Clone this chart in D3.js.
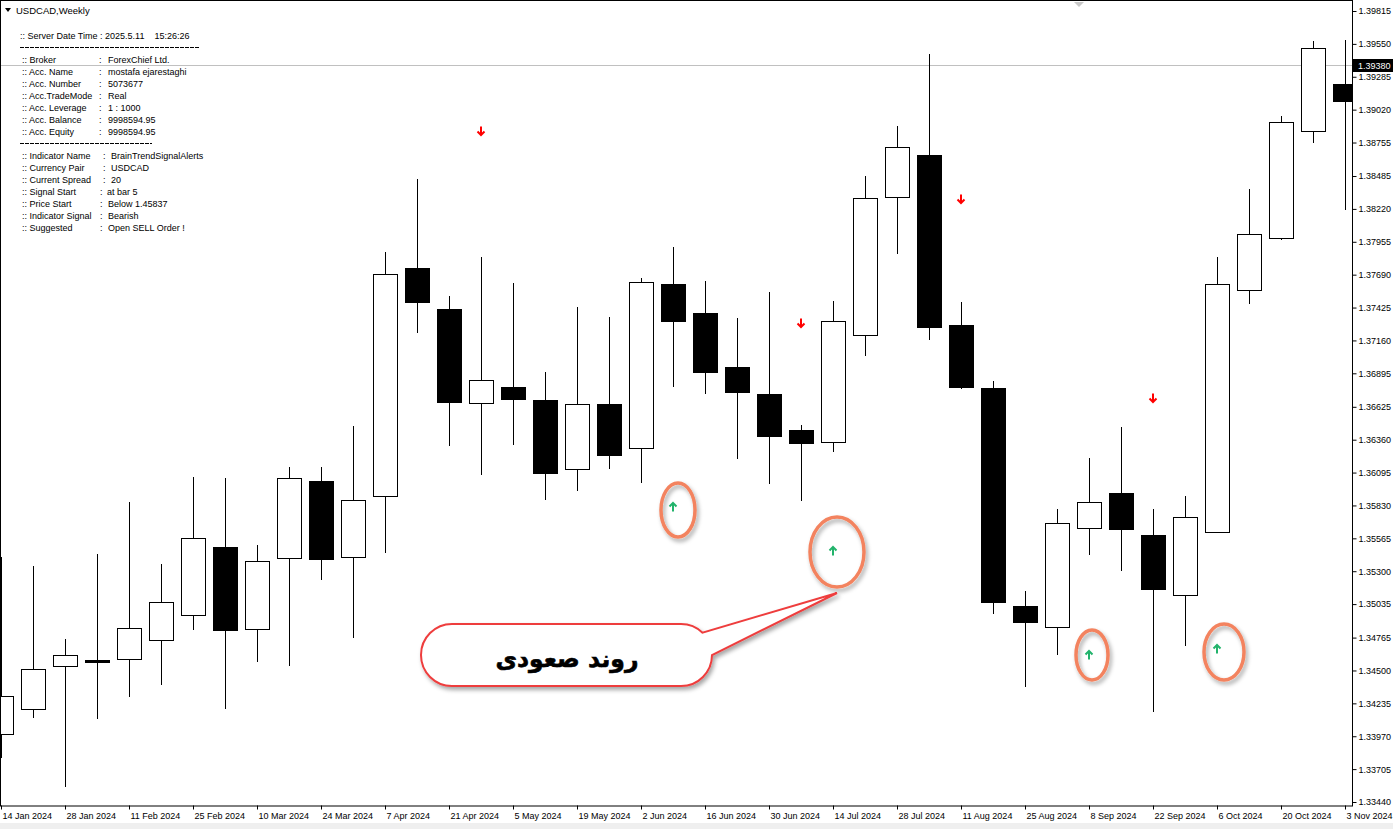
<!DOCTYPE html>
<html><head><meta charset="utf-8">
<script src="https://cdn.jsdelivr.net/npm/d3@7"></script>
<style>
body{margin:0;background:#fff;overflow:hidden;}
svg{display:block;}
text{font-family:"Liberation Sans",Arial,sans-serif;white-space:pre;}
</style>
</head><body>
<svg id="c" width="1393" height="829"></svg>
<script>
// ---------- DATA ----------
const dates = ["14 Jan 2024","21 Jan 2024","28 Jan 2024","4 Feb 2024","11 Feb 2024","18 Feb 2024","25 Feb 2024","3 Mar 2024","10 Mar 2024","17 Mar 2024","24 Mar 2024","31 Mar 2024","7 Apr 2024","14 Apr 2024","21 Apr 2024","28 Apr 2024","5 May 2024","12 May 2024","19 May 2024","26 May 2024","2 Jun 2024","9 Jun 2024","16 Jun 2024","23 Jun 2024","30 Jun 2024","7 Jul 2024","14 Jul 2024","21 Jul 2024","28 Jul 2024","4 Aug 2024","11 Aug 2024","18 Aug 2024","25 Aug 2024","1 Sep 2024","8 Sep 2024","15 Sep 2024","22 Sep 2024","29 Sep 2024","6 Oct 2024","13 Oct 2024","20 Oct 2024","27 Oct 2024","3 Nov 2024"];
const openP  = [1.33988,1.34190,1.34536,1.34584,1.34592,1.34746,1.34947,1.35495,1.34834,1.35407,1.36027,1.35415,1.35906,1.37744,1.37413,1.36656,1.36785,1.36680,1.36124,1.36648,1.36293,1.37615,1.37381,1.36946,1.36728,1.36438,1.36341,1.37204,1.38316,1.38655,1.37284,1.36777,1.35020,1.34850,1.35648,1.35930,1.35592,1.35108,1.35616,1.37566,1.37986,1.38848,1.39227];
const highP  = [1.35415,1.35342,1.34754,1.35439,1.35858,1.35358,1.36059,1.36051,1.35511,1.36140,1.36140,1.36470,1.37873,1.38461,1.37518,1.37832,1.37623,1.36906,1.37429,1.37349,1.37663,1.37913,1.37639,1.37341,1.37550,1.36478,1.37478,1.38485,1.38888,1.39469,1.37470,1.36833,1.35141,1.35801,1.36212,1.36462,1.35801,1.35906,1.37832,1.38381,1.38969,1.39573,1.39581];
const lowP   = [1.33803,1.34125,1.33569,1.34117,1.34294,1.34391,1.34834,1.34198,1.34576,1.34544,1.35237,1.34770,1.35455,1.37228,1.36317,1.36084,1.36325,1.35882,1.35955,1.36132,1.36019,1.36793,1.36736,1.36212,1.36011,1.35874,1.36269,1.37043,1.37865,1.37172,1.36777,1.34963,1.34375,1.34633,1.35439,1.35310,1.34173,1.34705,1.35616,1.37462,1.37978,1.38759,1.38219];
const closeP = [1.34294,1.34512,1.34625,1.34568,1.34842,1.35052,1.35568,1.34826,1.35382,1.36051,1.35398,1.35874,1.37695,1.37470,1.36664,1.36841,1.36688,1.36092,1.36648,1.36237,1.37631,1.37317,1.36906,1.36744,1.36390,1.36333,1.37317,1.38308,1.38719,1.37268,1.36785,1.35052,1.34891,1.35689,1.35858,1.35640,1.35157,1.35737,1.37615,1.38018,1.38920,1.39517,1.39090];
const dateTicks = ["14 Jan 2024","28 Jan 2024","11 Feb 2024","25 Feb 2024","10 Mar 2024","24 Mar 2024","7 Apr 2024","21 Apr 2024","5 May 2024","19 May 2024","2 Jun 2024","16 Jun 2024","30 Jun 2024","14 Jul 2024","28 Jul 2024","11 Aug 2024","25 Aug 2024","8 Sep 2024","22 Sep 2024","6 Oct 2024","20 Oct 2024","3 Nov 2024"];
const priceTicks = [1.39815,1.39550,1.39285,1.39020,1.38755,1.38485,1.38220,1.37955,1.37690,1.37425,1.37160,1.36895,1.36625,1.36360,1.36095,1.35830,1.35565,1.35300,1.35035,1.34765,1.34500,1.34235,1.33970,1.33705,1.33440];
const bidPrice = 1.39380;
const sellDates  = ["28 Apr 2024","7 Jul 2024","11 Aug 2024","22 Sep 2024"];
const sellPrices = [1.38848,1.37300,1.38300,1.36696];
const buyDates   = ["9 Jun 2024","14 Jul 2024","8 Sep 2024","6 Oct 2024"];
const buyPrices  = [1.35818,1.35463,1.34625,1.34673];
const titleText = "USDCAD,Weekly";
const serverLine = ":: Server Date Time : 2025.5.11    15:26:26";
const accLabels = ["Broker","Acc. Name","Acc. Number","Acc.TradeMode","Acc. Leverage","Acc. Balance","Acc. Equity"];
const accValues = ["ForexChief Ltd.","mostafa ejarestaghi","5073677","Real","1 : 1000","9998594.95","9998594.95"];
const indLabels = ["Indicator Name","Currency Pair","Current Spread","Signal Start","Price Start","Indicator Signal","Suggested"];
const indValues = ["BrainTrendSignalAlerts","USDCAD","20","at bar 5","Below 1.45837","Bearish","Open SELL Order !"];
const calloutText = "روند صعودی";

// ---------- DRAW ----------
const svg = d3.select("#c");
const plotR = 1352, plotB = 806;
const x = d3.scalePoint().domain(dates).range([1, 1345]);
const y = d3.scaleLinear().domain([1.33440, 1.39815]).range([802, 11]);
const px = v => Math.round(v) + 0.5;

const defs = svg.append("defs");
defs.append("clipPath").attr("id","plot").append("rect").attr("x",0).attr("y",0).attr("width",plotR).attr("height",plotB);
defs.append("filter").attr("id","sh").attr("x","-30%").attr("y","-30%").attr("width","170%").attr("height","180%")
  .append("feDropShadow").attr("dx",2).attr("dy",3).attr("stdDeviation",2).attr("flood-color","#000").attr("flood-opacity",0.35);

svg.append("rect").attr("width",1393).attr("height",829).attr("fill","#fff");
svg.append("rect").attr("x",0).attr("y",823).attr("width",1393).attr("height",6).attr("fill","#efefef");

// bid line
svg.append("line").attr("x1",0).attr("x2",plotR).attr("y1",px(y(bidPrice))).attr("y2",px(y(bidPrice)))
  .attr("stroke","#c0c0c0").attr("stroke-width",1);

// candles
const candles = dates.map((d,i)=>({d, o:openP[i], h:highP[i], l:lowP[i], c:closeP[i]}));
const cg = svg.append("g").attr("clip-path","url(#plot)");
const cand = cg.selectAll("g.c").data(candles).join("g");
cand.append("line")
  .attr("x1",d=>px(x(d.d))).attr("x2",d=>px(x(d.d)))
  .attr("y1",d=>Math.round(y(d.h))).attr("y2",d=>Math.round(y(d.l))+1)
  .attr("stroke","#000").attr("stroke-width",1);
cand.append("rect")
  .attr("x",d=>Math.round(x(d.d))-12+0.5)
  .attr("width",24)
  .attr("y",d=>px(y(Math.max(d.o,d.c))))
  .attr("height",d=>Math.max(1, Math.round(y(Math.min(d.o,d.c))) - Math.round(y(Math.max(d.o,d.c)))))
  .attr("fill",d=>d.c>=d.o?"#fff":"#000")
  .attr("stroke","#000").attr("stroke-width",1);

// signal arrows
const sells = sellDates.map((d,i)=>({d,p:sellPrices[i]}));
const buys = buyDates.map((d,i)=>({d,p:buyPrices[i]}));
svg.selectAll("path.sell").data(sells).join("path")
  .attr("transform",d=>`translate(${x(d.d)},${y(d.p)})`)
  .attr("d","M0,-4.5 L0,4 M-3.5,0.5 L0,4 L3.5,0.5")
  .attr("fill","none").attr("stroke","#ff0000").attr("stroke-width",2);
svg.selectAll("path.buy").data(buys).join("path")
  .attr("transform",d=>`translate(${x(d.d)},${y(d.p)})`)
  .attr("d","M0,4.5 L0,-4 M-3.5,-0.5 L0,-4 L3.5,-0.5")
  .attr("fill","none").attr("stroke","#22b36b").attr("stroke-width",2);

// annotation ellipses around buy arrows
const ellStyle = [[5,3,17,27],[4,1,27,35],[3,0,16,25],[7,3,20,28]];
svg.selectAll("ellipse.ann").data(buys).join("ellipse")
  .attr("cx",(d,i)=>x(d.d)+ellStyle[i][0]).attr("cy",(d,i)=>y(d.p)+ellStyle[i][1])
  .attr("rx",(d,i)=>ellStyle[i][2]).attr("ry",(d,i)=>ellStyle[i][3])
  .attr("fill","none").attr("stroke","#f3835f").attr("stroke-width",3.5).attr("filter","url(#sh)");

// callout
const tipX = x(buyDates[1]) + 4, tipY = y(buyPrices[1]) + 42;
const bx0=421, bx1=712, by0=624, by1=686, r=31, cy0=(by0+by1)/2;
const ang = -46*Math.PI/180;
const ax = bx1-r + r*Math.cos(ang), ay = cy0 + r*Math.sin(ang);
const cpath = `M${bx0+r},${by0} H${bx1-r} A${r},${r} 0 0 1 ${ax},${ay} L${tipX},${tipY} L${bx1},${cy0} A${r},${r} 0 0 1 ${bx1-r},${by1} H${bx0+r} A${r},${r} 0 0 1 ${bx0+r},${by0} Z`;
svg.append("path").attr("d",cpath).attr("fill","#fff").attr("stroke","#ee3d3d").attr("stroke-width",2).attr("filter","url(#sh)");
svg.append("text").attr("x",567).attr("y",667).attr("text-anchor","middle").attr("direction","rtl")
  .style("font-family","'DejaVu Sans',sans-serif").style("font-weight","bold").style("font-size","23.5px")
  .attr("fill","#000").attr("stroke","#000").attr("stroke-width",0.6).text(calloutText);

// frame
svg.append("rect").attr("x",0.5).attr("y",0.5).attr("width",plotR).attr("height",plotB-0.5)
  .attr("fill","none").attr("stroke","#000").attr("stroke-width",1);

// y axis
const ya = svg.append("g").attr("transform",`translate(${plotR+0.5},0)`)
  .call(d3.axisRight(y).tickValues(priceTicks).tickSize(4).tickPadding(2).tickFormat(d3.format(".5f")));
ya.select(".domain").remove();
ya.selectAll("text").style("font-size","9px").attr("fill","#000");
ya.selectAll("line").attr("stroke","#000");
// bid label
const by = Math.round(y(bidPrice));
svg.append("rect").attr("x",plotR+1).attr("y",by-6).attr("width",41).attr("height",13).attr("fill","#000");
svg.append("text").attr("x",plotR+6).attr("y",by+3.5).style("font-size","9px").attr("fill","#fff").text(d3.format(".5f")(bidPrice));

// x axis
const xa = svg.append("g").attr("transform",`translate(0,${plotB-0.5})`)
  .call(d3.axisBottom(x).tickValues(dateTicks).tickSize(4).tickPadding(3));
xa.select(".domain").remove();
xa.selectAll("text").style("font-size","9px").attr("fill","#000").attr("text-anchor","start").attr("x",1);
xa.selectAll("line").attr("stroke","#000");

// chart shift marker
svg.append("polygon").attr("points","1074,2 1084,2 1079,7").attr("fill","#c8c8c8");

// title
svg.append("polygon").attr("points","5,8 11,8 8,12").attr("fill","#000");
svg.append("text").attr("x",16).attr("y",14).style("font-size","9.5px").attr("fill","#000").text(titleText);

// info panel
const info = svg.append("g").style("font-size","9px").attr("fill","#000");
info.append("text").attr("x",20).attr("y",39).attr("xml:space","preserve").text(serverLine);
info.append("line").attr("x1",20).attr("x2",200).attr("y1",47.5).attr("y2",47.5).attr("stroke","#000").attr("stroke-dasharray","4 1");
accLabels.forEach((l,i)=>{
  const yy = 63 + i*12;
  info.append("text").attr("x",22).attr("y",yy).text(":: "+l);
  info.append("text").attr("x",99).attr("y",yy).text(":");
  info.append("text").attr("x",108).attr("y",yy).text(accValues[i]);
});
info.append("line").attr("x1",20).attr("x2",152).attr("y1",143.5).attr("y2",143.5).attr("stroke","#000").attr("stroke-dasharray","4 1");
indLabels.forEach((l,i)=>{
  const yy = 159 + i*12;
  info.append("text").attr("x",22).attr("y",yy).text(":: "+l);
  info.append("text").attr("x",i<3?103:100).attr("y",yy).text(":");
  info.append("text").attr("x",i<3?111:(i==3?107:108)).attr("y",yy).text(indValues[i]);
});
</script>
</body></html>
